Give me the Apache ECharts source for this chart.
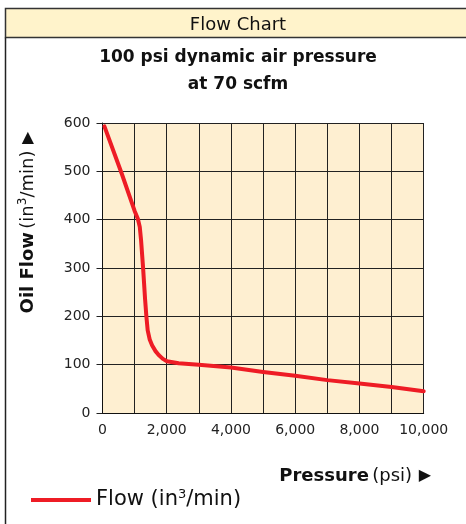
<!DOCTYPE html>
<html>
<head>
<meta charset="utf-8">
<script src="https://cdn.jsdelivr.net/npm/echarts@6/dist/echarts.min.js"></script>
<style>
html,body{margin:0;padding:0;background:#fff;}
#chart{width:466px;height:524px;}
</style>
</head>
<body>
<div id="chart"></div>
<script>
// Data
var pressure = [60, 600, 1000, 1100, 1160, 1200, 1264, 1326, 1366, 1407, 1470, 1543, 1650, 1749, 1880, 2006, 2370, 3000, 4000, 5000, 6000, 7000, 8000, 9000, 10000];
var oilFlow  = [593, 495, 418, 402, 385, 358, 300, 235, 200, 171, 152, 140, 128, 120, 112, 107, 103, 100, 94, 85, 77, 68, 61, 54, 45];
var xTickLabels = ['0', '2,000', '4,000', '6,000', '8,000', '10,000'];
var yTickLabels = ['0', '100', '200', '300', '400', '500', '600'];
var headerText = 'Flow Chart';
var titleText = '100 psi dynamic air pressure\nat 70 scfm';
var seriesName = 'Flow (in3/min)';

var FONT = 'DejaVu Sans';
var seriesData = pressure.map(function (p, i) { return [p, oilFlow[i]]; });

var chart = echarts.init(document.getElementById('chart'), null, {renderer: 'canvas'});
chart.setOption({
  animation: false,
  backgroundColor: '#ffffff',
  graphic: [
    {type: 'rect', z: 0, shape: {x: 5.5, y: 8.5, width: 480, height: 29},
     style: {fill: '#FFF3CB', stroke: '#333', lineWidth: 1.5}},
    {type: 'line', z: 0, shape: {x1: 5.5, y1: 37.5, x2: 5.5, y2: 530},
     style: {stroke: '#222', lineWidth: 1.5}},
    {type: 'text', z: 10, x: 28, y: 222.5, rotation: Math.PI / 2,
     style: {
       text: '{b|Oil Flow} {r|(in}{s|3}{r|/min)}  {t|▶}',
       align: 'center', verticalAlign: 'middle',
       rich: {
         b: {fontFamily: FONT, fontSize: 18, fontWeight: 'bold', fill: '#111', lineHeight: 22},
         r: {fontFamily: FONT, fontSize: 18, fill: '#111', lineHeight: 22},
         s: {fontFamily: FONT, fontSize: 12, fill: '#111', verticalAlign: 'top', lineHeight: 22},
         t: {fontFamily: FONT, fontSize: 16, fill: '#111', lineHeight: 22}
       }
     }},
    {type: 'text', z: 10, x: 431, y: 476,
     style: {
       text: '{b|Pressure} {r|(psi)}  {t|▶}',
       align: 'right', verticalAlign: 'middle',
       rich: {
         b: {fontFamily: FONT, fontSize: 18, fontWeight: 'bold', fill: '#111', lineHeight: 22},
         r: {fontFamily: FONT, fontSize: 18, fill: '#111', lineHeight: 22},
         t: {fontFamily: FONT, fontSize: 16, fill: '#111', lineHeight: 22}
       }
     }}
  ],
  title: [
    {text: headerText, left: 238, textAlign: 'center', top: 15.7, padding: 0,
     textStyle: {fontFamily: FONT, fontSize: 18, fontWeight: 'normal', color: '#111', lineHeight: 20}},
    {text: titleText, left: 238, textAlign: 'center', top: 44.7, padding: 0,
     textStyle: {fontFamily: FONT, fontSize: 17, fontWeight: 'bold', color: '#111', lineHeight: 26.5}}
  ],
  legend: {
    left: 31, top: 488, padding: 0,
    icon: 'rect', itemWidth: 60, itemHeight: 4,
    data: [seriesName],
    formatter: function () { return '{r|Flow (in}{s|3}{r|/min)}'; },
    textStyle: {
      color: '#111',
      rich: {
        r: {fontFamily: FONT, fontSize: 21, color: '#111', lineHeight: 24},
        s: {fontFamily: FONT, fontSize: 13, color: '#111', verticalAlign: 'top', lineHeight: 24}
      }
    }
  },
  grid: {
    left: 102.5, right: 42.3, top: 123, bottom: 111,
    show: true, backgroundColor: '#FEEFD1', borderWidth: 0
  },
  xAxis: {
    type: 'value', min: 0, max: 10000, interval: 1000,
    axisLine: {show: true, lineStyle: {color: '#111', width: 1}},
    axisTick: {show: false},
    splitLine: {show: true, lineStyle: {color: '#222', width: 1}},
    axisLabel: {
      margin: 10, fontFamily: FONT, fontSize: 14, color: '#222',
      formatter: function (v) {
        if (v % 2000 !== 0) return '';
        var idx = v / 2000;
        return xTickLabels[idx] !== undefined ? xTickLabels[idx] : '';
      }
    }
  },
  yAxis: {
    type: 'value', min: 0, max: 600, interval: 100,
    axisLine: {show: true, lineStyle: {color: '#111', width: 1}},
    axisTick: {show: true, length: 6, lineStyle: {color: '#222'}},
    splitLine: {show: true, lineStyle: {color: '#222', width: 1}},
    axisLabel: {
      margin: 12, fontFamily: FONT, fontSize: 14, color: '#222',
      formatter: function (v) { return yTickLabels[v / 100] !== undefined ? yTickLabels[v / 100] : ''; }
    }
  },
  series: [{
    name: seriesName,
    type: 'line',
    data: seriesData,
    showSymbol: false,
    smooth: false,
    color: '#EE1C25',
    lineStyle: {color: '#EE1C25', width: 4, join: 'round', cap: 'round'},
    z: 5
  }]
});
</script>
</body>
</html>
